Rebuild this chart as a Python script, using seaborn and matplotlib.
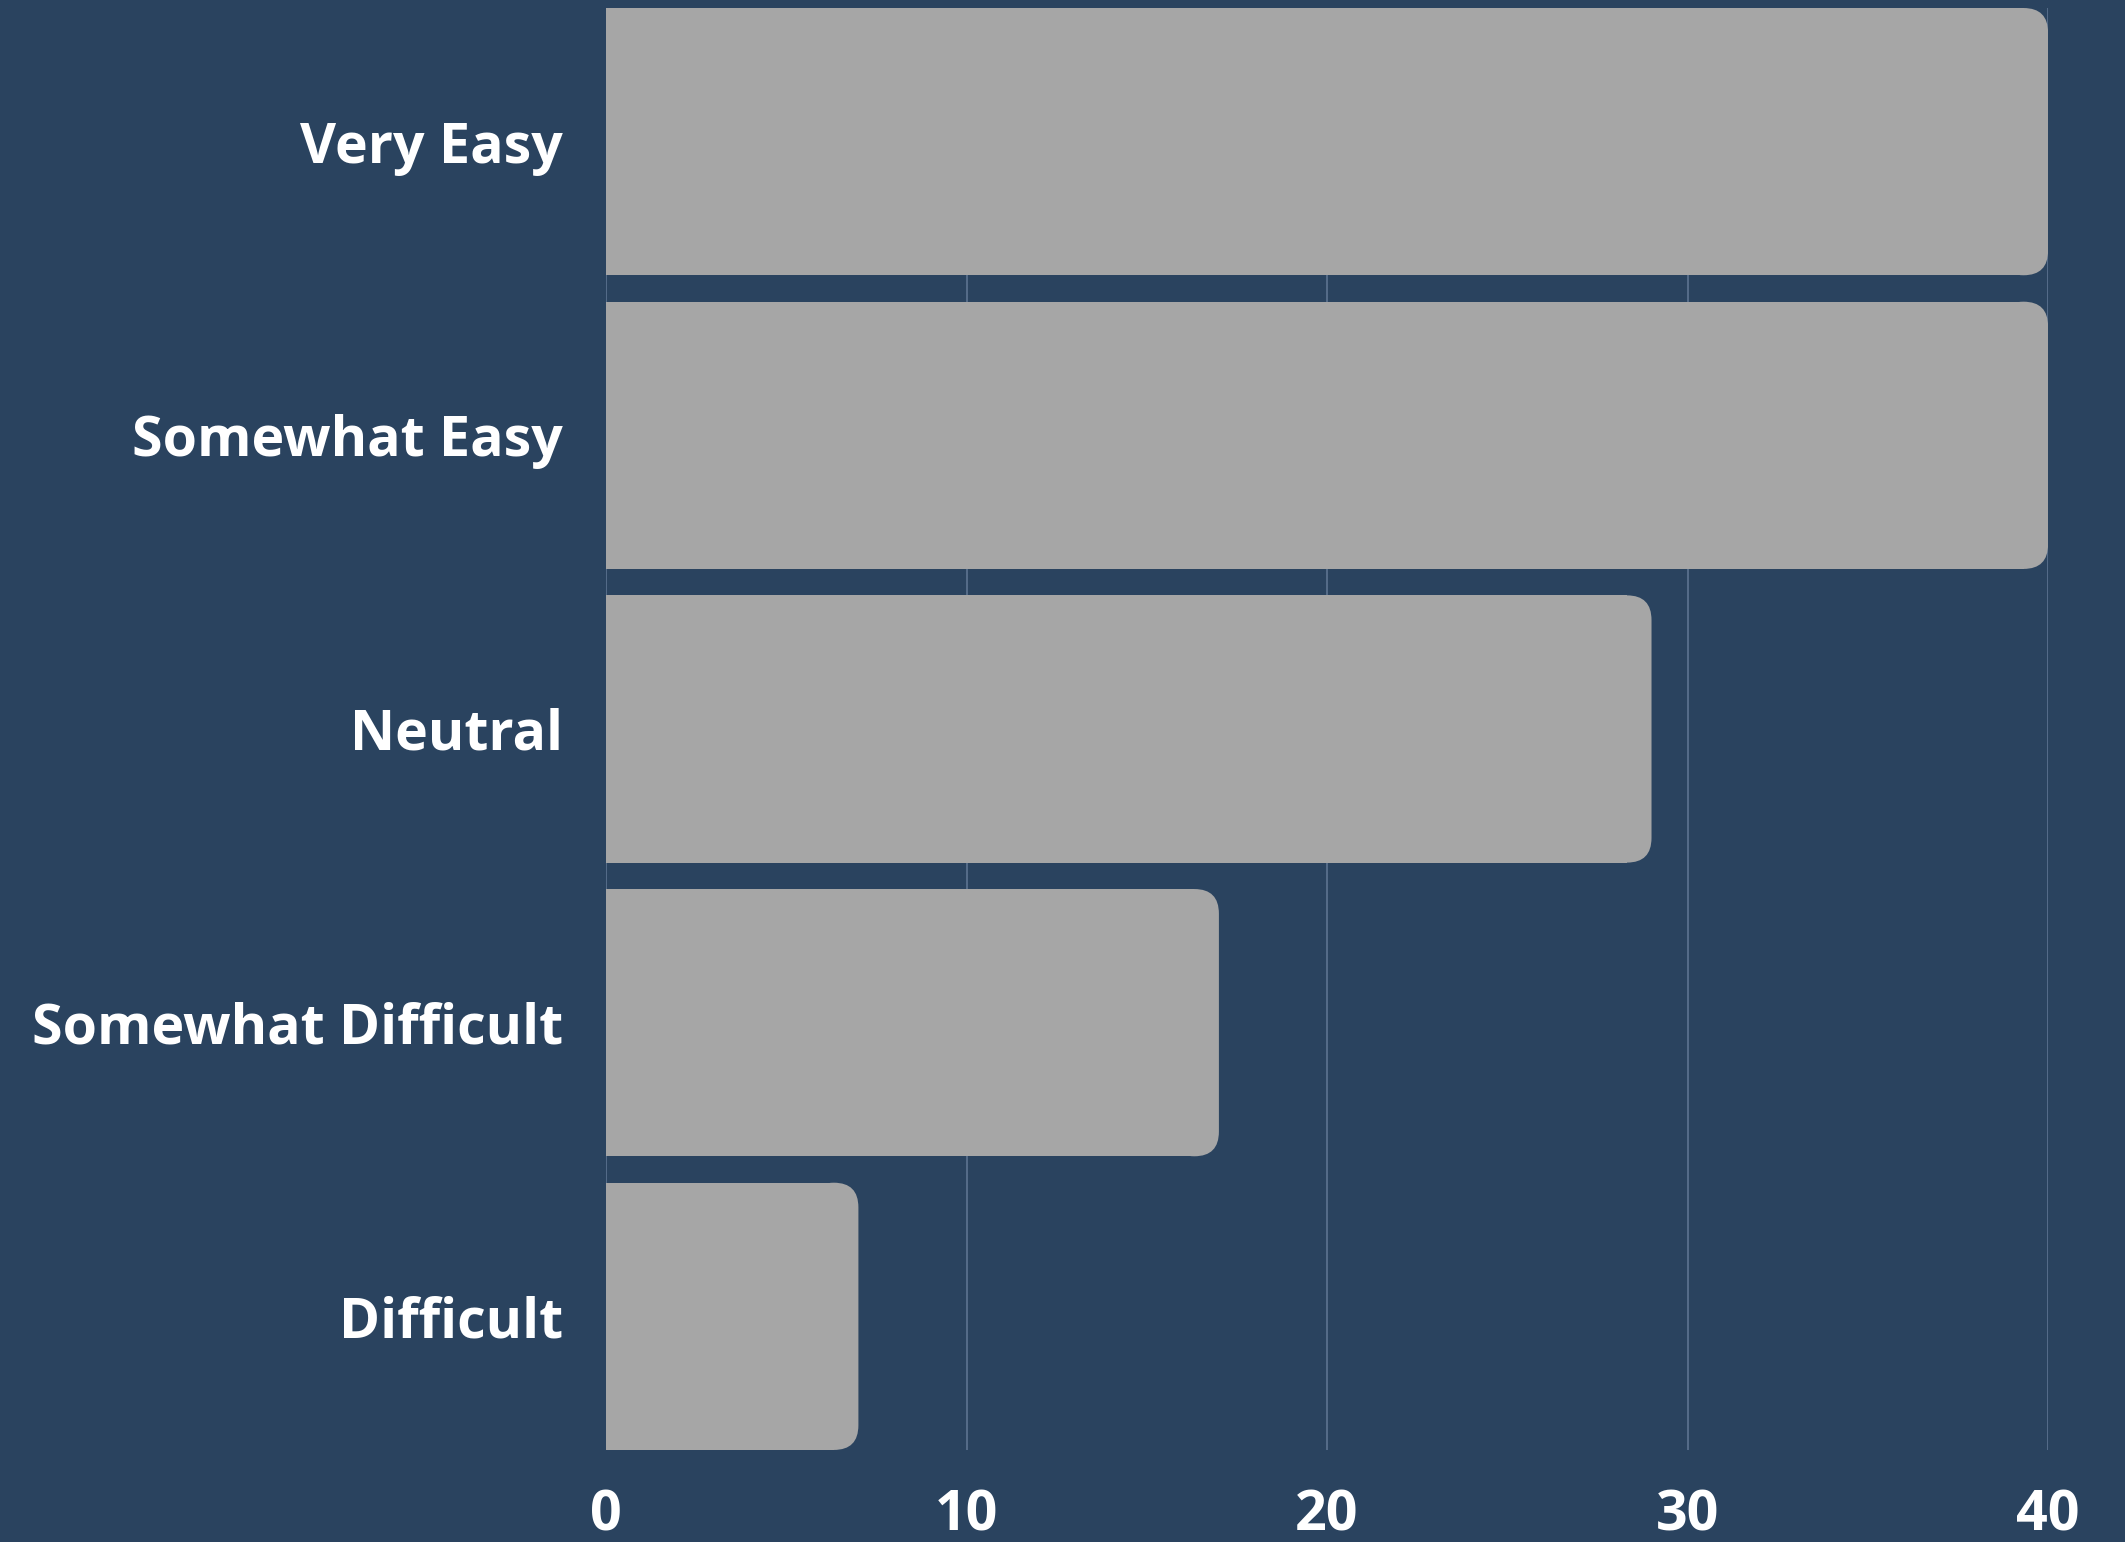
import matplotlib
matplotlib.use("Agg")
import matplotlib.pyplot as plt
import seaborn as sns
import pandas as pd
from matplotlib.patches import FancyBboxPatch

# survey answers and counts
categories = ["Very Easy", "Somewhat Easy", "Neutral", "Somewhat Difficult", "Difficult"]
counts = [40, 40, 29, 17, 7]
x_ticks = [0, 10, 20, 30, 40]

BG = "#2A435F"
BAR = "#A6A6A6"
GRID = "#5D7491"

sns.set_theme(style="white")
plt.rcParams["font.family"] = ["Open Sans", "Roboto", "DejaVu Sans"]

df = pd.DataFrame({"answer": categories, "count": counts})

fig = plt.figure(figsize=(21.25, 15.42), dpi=100, facecolor=BG)
ax = fig.add_axes([0.2852, 0.0597, 0.9638 - 0.2852, 0.9948 - 0.0597])
ax.set_facecolor(BG)

bar_w = 0.91
sns.barplot(data=df, y="answer", x="count", color=BAR, saturation=1,
            width=bar_w, orient="h", ax=ax)

ax.set_xlim(0, 40)
ax.set_ylim(len(categories) - 1 + bar_w / 2, -bar_w / 2)

# round the right end of each bar
rx, ry = 0.68, 0.084
for p in list(ax.patches):
    p.set_linewidth(0)
    v = p.get_width()
    y0 = p.get_y()
    h = p.get_height()
    p.set_width(v - rx)
    cap = FancyBboxPatch((v - 2 * rx, y0), 2 * rx, h,
                         boxstyle=f"round,pad=0,rounding_size={rx}",
                         mutation_aspect=ry / rx,
                         facecolor=BAR, edgecolor="none", linewidth=0, zorder=p.get_zorder())
    ax.add_patch(cap)

ax.set_xticks(x_ticks)
ax.grid(axis="x", color=GRID, linewidth=1.2)
ax.grid(axis="y", visible=False)
ax.set_axisbelow(True)
for s in ax.spines.values():
    s.set_visible(False)

ax.set_xlabel("")
ax.set_ylabel("")
ax.tick_params(axis="y", length=0, pad=31, labelsize=40, labelcolor="white")
ax.tick_params(axis="x", length=0, pad=28, labelsize=40, labelcolor="white")
for lbl in ax.get_yticklabels() + ax.get_xticklabels():
    lbl.set_fontweight("bold")

fig.savefig("out.png", dpi=100, facecolor=BG)
